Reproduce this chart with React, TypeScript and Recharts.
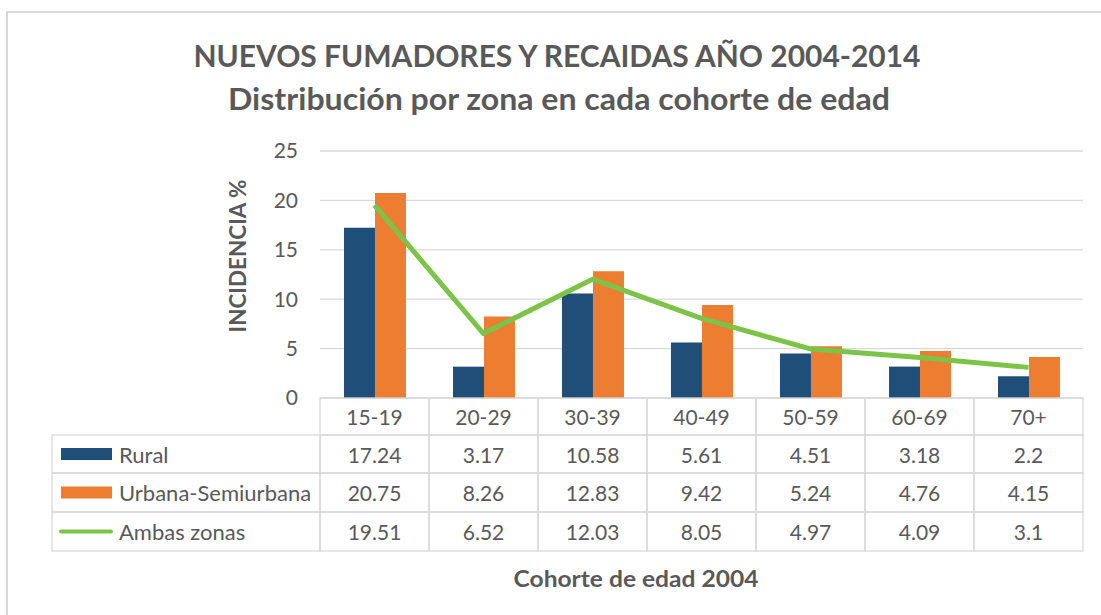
import React from 'react';
import { ComposedChart, Bar, Line, XAxis, YAxis, CartesianGrid, Customized } from 'recharts';

const categories = ['15-19', '20-29', '30-39', '40-49', '50-59', '60-69', '70+'];
const rural = [17.24, 3.17, 10.58, 5.61, 4.51, 3.18, 2.2];
const urbana = [20.75, 8.26, 12.83, 9.42, 5.24, 4.76, 4.15];
const ambas = [19.51, 6.52, 12.03, 8.05, 4.97, 4.09, 3.1];
const yTicks = [0, 5, 10, 15, 20, 25];
const seriesNames = ['Rural', 'Urbana-Semiurbana', 'Ambas zonas'];
const title = 'NUEVOS FUMADORES Y RECAIDAS AÑO 2004-2014';
const subtitle = 'Distribución por zona en cada cohorte de edad';
const yLabel = 'INCIDENCIA %';
const xLabel = 'Cohorte de edad 2004';

const data = categories.map((c, i) => ({ cohorte: c, rural: rural[i], urbana: urbana[i], ambas: ambas[i] }));

const FONT = 'Lato, "Open Sans", sans-serif';
const TXT = '#595959';
const BORDER = '#D9D9D9';
const C_RURAL = '#1F4E79';
const C_URB = '#ED7D31';
const C_AMB = '#7CC447';

// row boundaries relative to axis top
const rowTops = [0, 37, 75, 114];
const rowBottoms = [37, 75, 114, 153];
const TABLE_LEFT = 52;

const TableTick = (props: any) => {
  const { x, y, payload, index } = props;
  const i = payload && typeof payload.index === 'number' ? payload.index : index;
  const w = payload && payload.offset ? payload.offset * 2 : 109;
  const left = x - w / 2;
  const cells = [categories[i], String(rural[i]), String(urbana[i]), String(ambas[i])];
  return (
    <g>
      {cells.map((t, r) => (
        <g key={r}>
          <rect x={left} y={y + rowTops[r]} width={w} height={rowBottoms[r] - rowTops[r]} fill="none" stroke={BORDER} strokeWidth={1.3} />
          <text x={x} y={y + (rowTops[r] + rowBottoms[r]) / 2} textAnchor="middle" dominantBaseline="central" fill={TXT} fontSize={21} fontFamily={FONT}>{t}</text>
        </g>
      ))}
      {i === 0 &&
        seriesNames.map((name, k) => {
          const r = k + 1;
          const cy = y + (rowTops[r] + rowBottoms[r]) / 2;
          return (
            <g key={'l' + k}>
              <rect x={TABLE_LEFT} y={y + rowTops[r]} width={left - TABLE_LEFT} height={rowBottoms[r] - rowTops[r]} fill="none" stroke={BORDER} strokeWidth={1.3} />
              {k < 2 ? (
                <rect x={61} y={cy - 6} width={51} height={12} fill={k === 0 ? C_RURAL : C_URB} />
              ) : (
                <line x1={61} x2={111} y1={cy} y2={cy} stroke={C_AMB} strokeWidth={4} strokeLinecap="round" />
              )}
              <text x={119} y={cy} dominantBaseline="central" fill={TXT} fontSize={22} fontFamily={FONT}>{name}</text>
            </g>
          );
        })}
    </g>
  );
};

const Decorations = () => (
  <g>
    <rect x={7} y={12} width={1110} height={620} fill="none" stroke={BORDER} strokeWidth={2} />
    <text x={557} y={55} textAnchor="middle" dominantBaseline="central" fill={TXT} fontSize={30} fontWeight="bold" fontFamily={FONT} textLength={727} lengthAdjust="spacingAndGlyphs">{title}</text>
    <text x={559} y={98} textAnchor="middle" dominantBaseline="central" fill={TXT} fontSize={30} fontWeight="bold" fontFamily={FONT} textLength={662} lengthAdjust="spacingAndGlyphs">{subtitle}</text>
    <text x={237} y={256} transform="rotate(-90 237 256)" textAnchor="middle" dominantBaseline="central" fill={TXT} fontSize={22} fontWeight="bold" fontFamily={FONT} textLength={153} lengthAdjust="spacingAndGlyphs">{yLabel}</text>
    <text x={636} y={578} textAnchor="middle" dominantBaseline="central" fill={TXT} fontSize={23} fontWeight="bold" fontFamily={FONT} textLength={245} lengthAdjust="spacingAndGlyphs">{xLabel}</text>
  </g>
);

export default function App() {
  return (
    <div style={{ position: 'absolute', left: 0, top: 0, width: 1101, height: 615, background: '#fff' }}>
      <ComposedChart width={1101} height={615} data={data} margin={{ top: 151, right: 18, bottom: 0, left: 0 }} barCategoryGap="22%" barGap={0}>
        <CartesianGrid vertical={false} stroke={BORDER} strokeWidth={1.3} />
        <XAxis dataKey="cohorte" height={217} axisLine={false} tickLine={false} tickSize={0} tickMargin={0} interval={0} tick={<TableTick />} />
        <YAxis width={320} domain={[0, 25]} ticks={yTicks} axisLine={false} tickLine={false} tickSize={0} tickMargin={22} tick={{ fill: TXT, fontSize: 21, fontFamily: FONT }} />
        <Bar dataKey="rural" name={seriesNames[0]} fill={C_RURAL} isAnimationActive={false} />
        <Bar dataKey="urbana" name={seriesNames[1]} fill={C_URB} isAnimationActive={false} />
        <Line dataKey="ambas" name={seriesNames[2]} stroke={C_AMB} strokeWidth={5} dot={false} activeDot={false} strokeLinejoin="round" isAnimationActive={false} />
        <Customized component={<Decorations />} />
      </ComposedChart>
    </div>
  );
}
